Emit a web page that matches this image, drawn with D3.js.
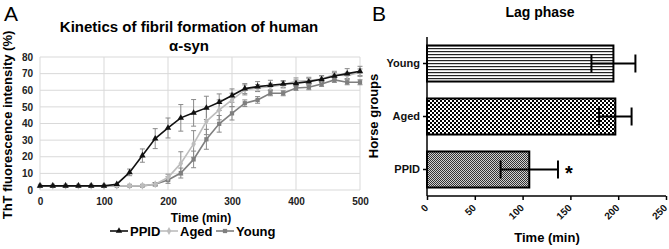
<!DOCTYPE html>
<html>
<head>
<meta charset="utf-8">
<script src="https://cdn.jsdelivr.net/npm/d3@7"></script>
<style>
  body { margin: 0; background: white; }
  text { font-family: "Liberation Sans", Arial, sans-serif; }
</style>
</head>
<body>
<script>
// --- data ---
const times = [0, 20, 40, 60, 80, 100, 120, 140, 160, 180, 200, 220, 240, 260, 280, 300, 320, 340, 360, 380, 400, 420, 440, 460, 480, 500]
const ppid = [2.5, 2.5, 2.5, 2.5, 2.5, 2.5, 3.5, 10.6, 20.7, 30.9, 37.3, 43.4, 46.4, 49.4, 52.8, 56.8, 61, 62.2, 63, 63.8, 64.2, 65.2, 66.6, 68.6, 70, 71.4]
const aged = [2.5, 2.5, 2.5, 2.5, 2.5, 2.5, 2.5, 2.5, 2.6, 3.5, 7.5, 16, 27.7, 41.3, 48.2, 54.2, 60.2, 61.4, 62.2, 63.4, 65.4, 65.8, 66.8, 69.4, 68.8, 70.8]
const young = [2.5, 2.5, 2.5, 2.5, 2.5, 2.5, 2.5, 2.5, 2.5, 3.5, 6, 10.2, 18.4, 30.5, 39.8, 46.1, 52.2, 54.2, 58.2, 58.2, 61.4, 61.8, 63.8, 66.2, 64.8, 64.8]
const ppidErr = [0, 0, 0, 0, 0, 0, 0.5, 2, 4, 6, 6, 8, 8, 7, 5, 4, 3, 3, 3, 2, 2, 2, 2, 2, 3, 3]
const agedErr = [0, 0, 0, 0, 0, 0, 0, 0, 0, 1, 2, 7, 8, 8, 6, 4, 3, 2, 2, 2, 2, 2, 2, 2, 2, 2]
const youngErr = [0, 0, 0, 0, 0, 0, 0, 0, 0, 1, 2, 3, 5, 6, 5, 4, 2, 2, 1.5, 1.5, 1.5, 1.5, 1.5, 1.5, 1.5, 1.5]
const xTicksA = [0, 100, 200, 300, 400, 500]
const yTicksA = [0, 10, 20, 30, 40, 50, 60, 70, 80]

const groups = ["Young", "Aged", "PPID"]
const lag = [195, 197, 107]
const lagErr = [23, 17, 30]
const xTicksB = [0, 50, 100, 150, 200, 250]

const FONT = "'Liberation Sans', Arial, sans-serif"

const svg = d3.select("body").append("svg")
    .attr("width", 669)
    .attr("height", 249)

// patterns for the bars
const defs = svg.append("defs")
let p1 = defs.append("pattern").attr("id", "stripes")
    .attr("patternUnits", "userSpaceOnUse").attr("width", 4).attr("height", 3)
p1.append("rect").attr("width", 4).attr("height", 3).attr("fill", "white")
p1.append("rect").attr("width", 4).attr("height", 1.2).attr("fill", "#222")

let p2 = defs.append("pattern").attr("id", "checker")
    .attr("patternUnits", "userSpaceOnUse").attr("width", 4).attr("height", 4)
p2.append("rect").attr("width", 4).attr("height", 4).attr("fill", "white")
p2.append("rect").attr("width", 2).attr("height", 2).attr("fill", "black")
p2.append("rect").attr("x", 2).attr("y", 2).attr("width", 2).attr("height", 2).attr("fill", "black")

let p3 = defs.append("pattern").attr("id", "fine")
    .attr("patternUnits", "userSpaceOnUse").attr("width", 2).attr("height", 2)
p3.append("rect").attr("width", 2).attr("height", 2).attr("fill", "#d0d0d0")
p3.append("rect").attr("width", 1).attr("height", 1).attr("fill", "#333")
p3.append("rect").attr("x", 1).attr("y", 1).attr("width", 1).attr("height", 1).attr("fill", "#333")

// ================= Panel A =================
let x = d3.scaleLinear().domain([0, 500]).range([40, 360])
let y = d3.scaleLinear().domain([0, 80]).range([190, 57])

svg.append("text").attr("x", 4).attr("y", 21)
    .style("font-size", "21px").text("A")

svg.append("text").attr("x", 189).attr("y", 32)
    .attr("text-anchor", "middle")
    .style("font-size", "15px").style("font-weight", "bold")
    .text("Kinetics of fibril formation of human")
svg.append("text").attr("x", 189).attr("y", 51)
    .attr("text-anchor", "middle")
    .style("font-size", "15px").style("font-weight", "bold")
    .text("α-syn")

// gridlines
svg.append("g").selectAll("line").data(yTicksA).enter().append("line")
    .attr("x1", x(0)).attr("x2", x(500))
    .attr("y1", d => y(d)).attr("y2", d => y(d))
    .attr("stroke", "#d9d9d9")
svg.append("g").selectAll("line").data(xTicksA).enter().append("line")
    .attr("y1", y(0)).attr("y2", y(80))
    .attr("x1", d => x(d)).attr("x2", d => x(d))
    .attr("stroke", "#d9d9d9")

// axes (labels only)
let axA_x = svg.append("g").attr("transform", "translate(0," + y(0) + ")")
    .call(d3.axisBottom(x).tickValues(xTicksA).tickSize(0).tickPadding(8))
axA_x.select(".domain").remove()
let axA_y = svg.append("g").attr("transform", "translate(" + x(0) + ",0)")
    .call(d3.axisLeft(y).tickValues(yTicksA).tickSize(0).tickPadding(7))
axA_y.select(".domain").remove()
svg.selectAll(".tick text")
    .style("font-size", "10px").style("font-weight", "bold")
    .style("font-family", FONT)
    .attr("fill", "#222")

svg.append("text")
    .attr("transform", "translate(12,125) rotate(-90)")
    .attr("text-anchor", "middle")
    .style("font-size", "13px").style("font-weight", "bold")
    .text("ThT fluorescence intensity (%)")

svg.append("text").attr("x", 201).attr("y", 222)
    .attr("text-anchor", "middle")
    .style("font-size", "12px").style("font-weight", "bold")
    .text("Time (min)")

const series = [
    {name: "PPID", vals: ppid, err: ppidErr, color: "#111", shape: d3.symbolTriangle},
    {name: "Aged", vals: aged, err: agedErr, color: "#bdbdbd", shape: d3.symbolDiamond},
    {name: "Young", vals: young, err: youngErr, color: "#7f7f7f", shape: d3.symbolSquare}
]

let line = d3.line().x((d, i) => x(times[i])).y(d => y(d))

// error bars
series.forEach(s => {
    let g = svg.append("g")
    times.forEach((t, i) => {
        if (s.err[i] < 0.6) return
        let hi = y(s.vals[i] + s.err[i]), lo = y(s.vals[i] - s.err[i])
        g.append("line").attr("x1", x(t)).attr("x2", x(t)).attr("y1", hi).attr("y2", lo)
            .attr("stroke", "#8a8a8a").attr("stroke-width", 1)
        g.append("line").attr("x1", x(t) - 2.5).attr("x2", x(t) + 2.5).attr("y1", hi).attr("y2", hi)
            .attr("stroke", "#8a8a8a").attr("stroke-width", 1)
        g.append("line").attr("x1", x(t) - 2.5).attr("x2", x(t) + 2.5).attr("y1", lo).attr("y2", lo)
            .attr("stroke", "#8a8a8a").attr("stroke-width", 1)
    })
})

series.slice().reverse().forEach(s => {
    svg.append("path").datum(s.vals)
        .attr("d", line)
        .attr("fill", "none")
        .attr("stroke", s.color)
        .attr("stroke-width", 1.6)
    svg.append("g").selectAll("path").data(s.vals).enter().append("path")
        .attr("d", d3.symbol().type(s.shape).size(18))
        .attr("transform", (d, i) => "translate(" + x(times[i]) + "," + y(d) + ")")
        .attr("fill", s.color)
})

// legend
const legX = [110, 160, 216]
series.forEach((s, i) => {
    let lx = legX[i], ly = 231
    svg.append("line").attr("x1", lx).attr("x2", lx + 18).attr("y1", ly).attr("y2", ly)
        .attr("stroke", s.color).attr("stroke-width", 1.6)
    svg.append("path").attr("d", d3.symbol().type(s.shape).size(18))
        .attr("transform", "translate(" + (lx + 9) + "," + ly + ")")
        .attr("fill", s.color)
    svg.append("text").attr("x", lx + 20).attr("y", ly + 5)
        .style("font-size", "13px").style("font-weight", "bold")
        .text(s.name)
})

// ================= Panel B =================
let xb = d3.scaleLinear().domain([0, 250]).range([427, 666])
let yb = d3.scaleBand().domain(groups).range([37, 196]).paddingInner(0.32).paddingOuter(0.16)

svg.append("text").attr("x", 372).attr("y", 21)
    .style("font-size", "21px").text("B")

svg.append("text").attr("x", 540).attr("y", 17)
    .attr("text-anchor", "middle")
    .style("font-size", "14px").style("font-weight", "bold")
    .text("Lag phase")

const fills = ["url(#stripes)", "url(#checker)", "url(#fine)"]
svg.append("g").selectAll("rect").data(groups).enter().append("rect")
    .attr("x", xb(0))
    .attr("y", d => yb(d))
    .attr("width", (d, i) => xb(lag[i]) - xb(0))
    .attr("height", yb.bandwidth())
    .attr("fill", (d, i) => fills[i])
    .attr("stroke", "black")
    .attr("stroke-width", 2)

// error bars
groups.forEach((g, i) => {
    let cy = yb(g) + yb.bandwidth() / 2
    let lo = xb(lag[i] - lagErr[i]), hi = xb(lag[i] + lagErr[i])
    svg.append("line").attr("x1", lo).attr("x2", hi).attr("y1", cy).attr("y2", cy)
        .attr("stroke", "black").attr("stroke-width", 2)
    ;[lo, hi].forEach(px => {
        svg.append("line").attr("x1", px).attr("x2", px).attr("y1", cy - 9).attr("y2", cy + 9)
            .attr("stroke", "black").attr("stroke-width", 2)
    })
})

svg.append("text")
    .attr("x", xb(lag[2] + lagErr[2]) + 7)
    .attr("y", yb("PPID") + yb.bandwidth() / 2 + 10)
    .style("font-size", "20px").style("font-weight", "bold")
    .text("*")

let axB_y = svg.append("g").attr("transform", "translate(" + xb(0) + ",0)")
    .call(d3.axisLeft(yb).tickSize(4).tickPadding(3))
axB_y.select(".domain").attr("d", "M0,37V196")
let axB_x = svg.append("g").attr("transform", "translate(0,196)")
    .call(d3.axisBottom(xb).tickValues(xTicksB).tickSize(4))
axB_x.select(".domain").attr("d", "M" + xb(0) + ",0H" + xb(250))
axB_x.selectAll(".tick text")
    .attr("text-anchor", "end")
    .attr("x", 0).attr("y", 0)
    .attr("dy", "0.35em")
    .attr("transform", "translate(-1,10) rotate(-45)")
svg.selectAll(".domain, .tick line").attr("stroke", "black").attr("stroke-width", 1.5)
axB_y.selectAll("text").style("font-size", "11px").style("font-weight", "bold")
    .style("font-family", FONT).attr("fill", "#111")
axB_x.selectAll("text").style("font-size", "10px").style("font-weight", "bold")
    .style("font-family", FONT).attr("fill", "#111")

svg.append("text")
    .attr("transform", "translate(378,116) rotate(-90)")
    .attr("text-anchor", "middle")
    .style("font-size", "13px").style("font-weight", "bold")
    .text("Horse groups")

svg.append("text").attr("x", 547).attr("y", 242)
    .attr("text-anchor", "middle")
    .style("font-size", "13px").style("font-weight", "bold")
    .text("Time (min)")
</script>
</body>
</html>
